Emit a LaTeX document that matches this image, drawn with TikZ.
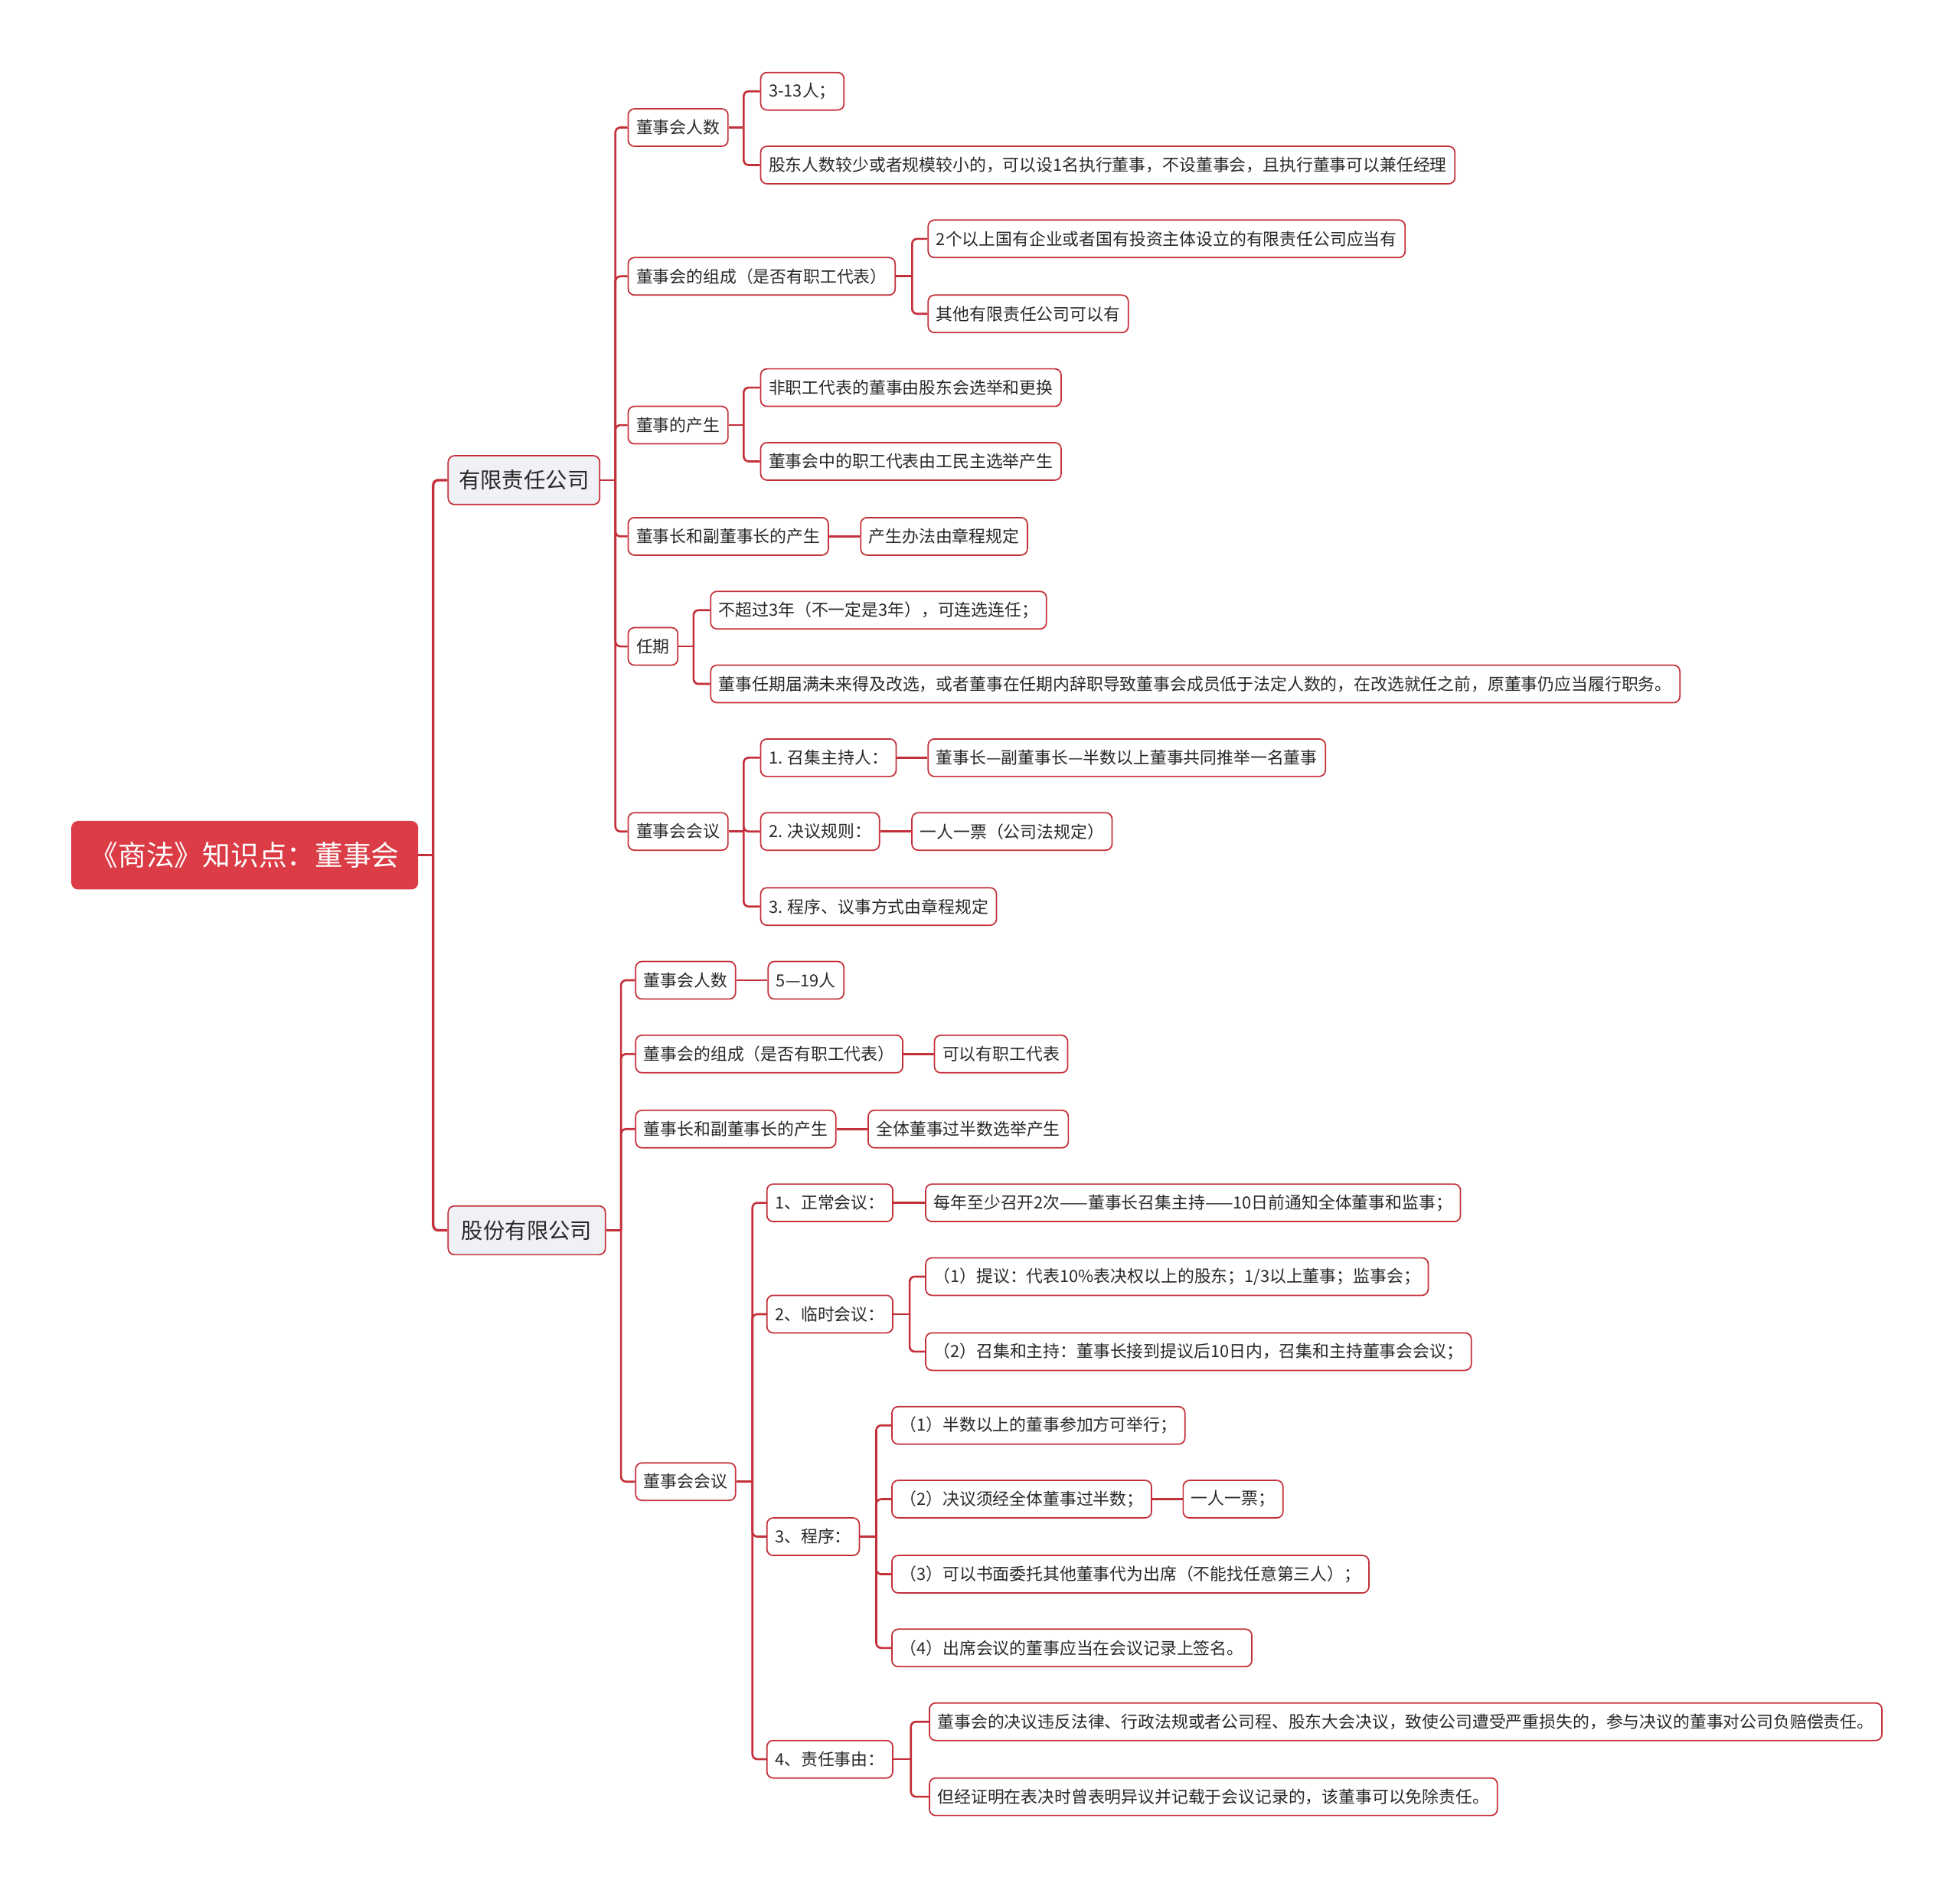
\documentclass[tikz,border=0pt]{standalone}
\usepackage{fontspec}
\setmainfont{Noto Sans CJK SC}
\usetikzlibrary{positioning}
\definecolor{mapred}{RGB}{219,60,70}
\definecolor{edgered}{RGB}{196,48,58}
\definecolor{paleblue}{RGB}{239,241,245}
\definecolor{inkgray}{RGB}{40,40,40}

\begin{document}
\begin{tikzpicture}[
    x=0.8pt, y=-0.8pt,
    %% -- Node styles ------------------------------------------------------
    %%
    %% every box is placed by its left edge (anchor=west), at the y of its centre
    boxbase/.style={
        anchor=west,
        draw=edgered,
        line width=0.85pt,
        rounded corners=4pt,
        text=inkgray,
        inner ysep=0pt,
    },
    rootbox/.style={boxbase, fill=mapred, draw=mapred, text=white,
        font=\fontsize{18}{20}\selectfont, inner xsep=11.6pt, minimum height=43pt},
    company/.style={boxbase, fill=paleblue,
        font=\fontsize{13.9}{16}\selectfont, inner xsep=6.8pt, minimum height=31.2pt},
    item/.style={boxbase, fill=white,
        font=\fontsize{10.7}{12}\selectfont, inner xsep=5.2pt, minimum height=24pt},
    %% -- Connector styles -------------------------------------------------
    %%
    %%   parent.east -- ++(12,0) gives the junction, then (junction) |- (child.west)
    link/.style={draw=edgered, line width=1.3pt, rounded corners=3.2pt},
    rootlink/.style={link, line width=1.6pt},
]
\useasboundingbox (0,0) rectangle (1568,1509);

%% -- Place nodes here -----------------------------------------------------

\node[rootbox] (Board) at (57,684) {《商法》知识点：董事会};
\node[company] (LLC) at (358,384) {有限责任公司};
\node[company, inner xsep=8.6pt] (JSC) at (358,984) {股份有限公司};

% 有限责任公司
\node[item] (LLC_Size)    at (502,102) {董事会人数};
\node[item] (LLC_Size_A)  at (608,73)  {3-13人；};
\node[item] (LLC_Size_B)  at (608,132) {股东人数较少或者规模较小的，可以设1名执行董事，不设董事会，且执行董事可以兼任经理};
\node[item] (LLC_Make)    at (502,221) {董事会的组成（是否有职工代表）};
\node[item] (LLC_Make_A)  at (742,191) {2个以上国有企业或者国有投资主体设立的有限责任公司应当有};
\node[item] (LLC_Make_B)  at (742,251) {其他有限责任公司可以有};
\node[item] (LLC_Elect)   at (502,340) {董事的产生};
\node[item] (LLC_Elect_A) at (608,310) {非职工代表的董事由股东会选举和更换};
\node[item] (LLC_Elect_B) at (608,369) {董事会中的职工代表由工民主选举产生};
\node[item] (LLC_Chair)   at (502,429) {董事长和副董事长的产生};
\node[item] (LLC_Chair_A) at (688,429) {产生办法由章程规定};
\node[item] (LLC_Term)    at (502,517) {任期};
\node[item] (LLC_Term_A)  at (568,488) {不超过3年（不一定是3年），可连选连任；};
\node[item] (LLC_Term_B)  at (568,547) {董事任期届满未来得及改选，或者董事在任期内辞职导致董事会成员低于法定人数的，在改选就任之前，原董事仍应当履行职务。};
\node[item] (LLC_Meet)    at (502,665) {董事会会议};
\node[item] (LLC_Meet_A)  at (608,606) {1. 召集主持人：};
\node[item] (LLC_Meet_A1) at (742,606) {董事长—副董事长—半数以上董事共同推举一名董事};
\node[item] (LLC_Meet_B)  at (608,665) {2. 决议规则：};
\node[item] (LLC_Meet_B1) at (729,665) {一人一票（公司法规定）};
\node[item] (LLC_Meet_C)  at (608,725) {3. 程序、议事方式由章程规定};

% 股份有限公司
\node[item] (JSC_Size)     at (508,784)  {董事会人数};
\node[item] (JSC_Size_A)   at (614,784)  {5—19人};
\node[item] (JSC_Make)     at (508,843)  {董事会的组成（是否有职工代表）};
\node[item] (JSC_Make_A)   at (747,843)  {可以有职工代表};
\node[item] (JSC_Chair)    at (508,903)  {董事长和副董事长的产生};
\node[item] (JSC_Chair_A)  at (694,903)  {全体董事过半数选举产生};
\node[item] (JSC_Meet)     at (508,1185) {董事会会议};
\node[item] (JSC_Meet_A)   at (613,962)  {1、正常会议：};
\node[item] (JSC_Meet_A1)  at (740,962)  {每年至少召开2次——董事长召集主持——10日前通知全体董事和监事；};
\node[item] (JSC_Meet_B)   at (613,1051) {2、临时会议：};
\node[item] (JSC_Meet_B1)  at (740,1021) {（1）提议：代表10\%表决权以上的股东；1/3以上董事；监事会；};
\node[item] (JSC_Meet_B2)  at (740,1081) {（2）召集和主持：董事长接到提议后10日内，召集和主持董事会会议；};
\node[item] (JSC_Meet_C)   at (613,1229) {3、程序：};
\node[item] (JSC_Meet_C1)  at (713,1140) {（1）半数以上的董事参加方可举行；};
\node[item] (JSC_Meet_C2)  at (713,1199) {（2）决议须经全体董事过半数；};
\node[item] (JSC_Meet_C2a) at (946,1199) {一人一票；};
\node[item] (JSC_Meet_C3)  at (713,1259) {（3）可以书面委托其他董事代为出席（不能找任意第三人）；};
\node[item] (JSC_Meet_C4)  at (713,1318) {（4）出席会议的董事应当在会议记录上签名。};
\node[item] (JSC_Meet_D)   at (613,1407) {4、责任事由：};
\node[item] (JSC_Meet_D1)  at (743,1377) {董事会的决议违反法律、行政法规或者公司程、股东大会决议，致使公司遭受严重损失的，参与决议的董事对公司负赔偿责任。};
\node[item] (JSC_Meet_D2)  at (743,1437) {但经证明在表决时曾表明异议并记载于会议记录的，该董事可以免除责任。};

%% -- Draw edges here ------------------------------------------------------

%% root
\draw[rootlink] (Board.east) -- ++(12,0) coordinate (Board_j);
\draw[rootlink] (Board_j) |- (LLC.west);
\draw[rootlink] (Board_j) |- (JSC.west);

%% 有限责任公司
\draw[link] (LLC.east) -- ++(12,0) coordinate (LLC_j);
\draw[link] (LLC_j) |- (LLC_Size.west);
\draw[link] (LLC_j) |- (LLC_Make.west);
\draw[link] (LLC_j) |- (LLC_Elect.west);
\draw[link] (LLC_j) |- (LLC_Chair.west);
\draw[link] (LLC_j) |- (LLC_Term.west);
\draw[link] (LLC_j) |- (LLC_Meet.west);

\draw[link] (LLC_Size.east) -- ++(12,0) coordinate (LLC_Size_j);
\draw[link] (LLC_Size_j) |- (LLC_Size_A.west);
\draw[link] (LLC_Size_j) |- (LLC_Size_B.west);

\draw[link] (LLC_Make.east) -- ++(13,0) coordinate (LLC_Make_j);
\draw[link] (LLC_Make_j) |- (LLC_Make_A.west);
\draw[link] (LLC_Make_j) |- (LLC_Make_B.west);

\draw[link] (LLC_Elect.east) -- ++(12,0) coordinate (LLC_Elect_j);
\draw[link] (LLC_Elect_j) |- (LLC_Elect_A.west);
\draw[link] (LLC_Elect_j) |- (LLC_Elect_B.west);

\draw[link] (LLC_Chair) -- (LLC_Chair_A);

\draw[link] (LLC_Term.east) -- ++(12,0) coordinate (LLC_Term_j);
\draw[link] (LLC_Term_j) |- (LLC_Term_A.west);
\draw[link] (LLC_Term_j) |- (LLC_Term_B.west);

\draw[link] (LLC_Meet.east) -- ++(12,0) coordinate (LLC_Meet_j);
\draw[link] (LLC_Meet_j) |- (LLC_Meet_A.west);
\draw[link] (LLC_Meet_j) |- (LLC_Meet_B.west);
\draw[link] (LLC_Meet_j) |- (LLC_Meet_C.west);
\draw[link] (LLC_Meet_A) -- (LLC_Meet_A1);
\draw[link] (LLC_Meet_B) -- (LLC_Meet_B1);

%% 股份有限公司
\draw[link] (JSC.east) -- ++(12,0) coordinate (JSC_j);
\draw[link] (JSC_j) |- (JSC_Size.west);
\draw[link] (JSC_j) |- (JSC_Make.west);
\draw[link] (JSC_j) |- (JSC_Chair.west);
\draw[link] (JSC_j) |- (JSC_Meet.west);

\draw[link] (JSC_Size) -- (JSC_Size_A);
\draw[link] (JSC_Make) -- (JSC_Make_A);
\draw[link] (JSC_Chair) -- (JSC_Chair_A);

\draw[link] (JSC_Meet.east) -- ++(13,0) coordinate (JSC_Meet_j);
\draw[link] (JSC_Meet_j) |- (JSC_Meet_A.west);
\draw[link] (JSC_Meet_j) |- (JSC_Meet_B.west);
\draw[link] (JSC_Meet_j) |- (JSC_Meet_C.west);
\draw[link] (JSC_Meet_j) |- (JSC_Meet_D.west);

\draw[link] (JSC_Meet_A) -- (JSC_Meet_A1);

\draw[link] (JSC_Meet_B.east) -- ++(13,0) coordinate (JSC_Meet_B_j);
\draw[link] (JSC_Meet_B_j) |- (JSC_Meet_B1.west);
\draw[link] (JSC_Meet_B_j) |- (JSC_Meet_B2.west);

\draw[link] (JSC_Meet_C.east) -- ++(13,0) coordinate (JSC_Meet_C_j);
\draw[link] (JSC_Meet_C_j) |- (JSC_Meet_C1.west);
\draw[link] (JSC_Meet_C_j) |- (JSC_Meet_C2.west);
\draw[link] (JSC_Meet_C_j) |- (JSC_Meet_C3.west);
\draw[link] (JSC_Meet_C_j) |- (JSC_Meet_C4.west);
\draw[link] (JSC_Meet_C2) -- (JSC_Meet_C2a);

\draw[link] (JSC_Meet_D.east) -- ++(14,0) coordinate (JSC_Meet_D_j);
\draw[link] (JSC_Meet_D_j) |- (JSC_Meet_D1.west);
\draw[link] (JSC_Meet_D_j) |- (JSC_Meet_D2.west);

\end{tikzpicture}
\end{document}
